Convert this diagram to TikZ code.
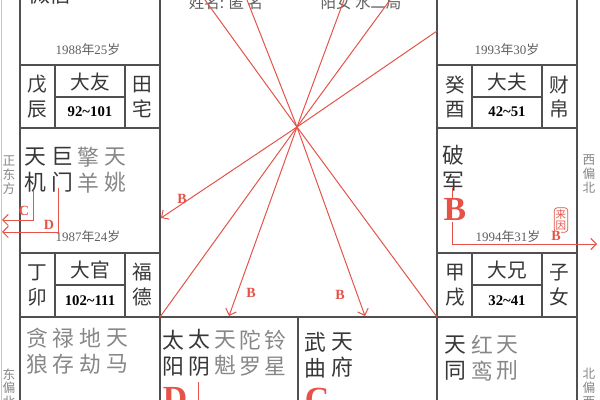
\documentclass[tikz,border=0pt]{standalone}
\usepackage{fontspec}
\setmainfont{Liberation Serif}
\newfontfamily\cjk{Noto Sans CJK SC}
\usetikzlibrary{arrows.meta}
\definecolor{linegray}{RGB}{80,80,80}
\definecolor{edgegray}{RGB}{200,200,200}
\definecolor{stardark}{RGB}{55,55,55}
\definecolor{starlight}{RGB}{135,135,135}
\definecolor{agegray}{RGB}{95,95,95}
\definecolor{flyred}{RGB}{228,82,72}

\begin{document}
\begin{tikzpicture}[x=0.025cm,y=-0.025cm,
    palaceline/.style={draw=linegray,line width=0.75pt},
    flyline/.style={draw=flyred,line width=0.7pt},
    flyarrow/.style={flyline,-{Straight Barb[length=4pt,width=8pt]}},
    starmain/.style={text=stardark,font=\cjk\fontsize{15.5}{18.8}\selectfont,align=center,inner sep=0pt},
    starminor/.style={starmain,text=starlight},
    cellname/.style={font=\cjk\fontsize{14}{17.7}\selectfont,align=center,inner sep=0pt,text=stardark},
    agerange/.style={font=\bfseries\fontsize{10.5}{12}\selectfont,inner sep=0pt,text=black},
    agetext/.style={font=\fontsize{9.2}{11}\selectfont,text=agegray,inner sep=0pt},
    sidetext/.style={font=\cjk\fontsize{9}{9.8}\selectfont,text=starlight,align=center,inner sep=0pt},
    headtext/.style={font=\cjk\fontsize{11}{13}\selectfont,text=agegray,inner sep=0pt},
    bigletter/.style={text=flyred,font=\bfseries\fontsize{24}{24}\selectfont,inner sep=0pt},
    flylabel/.style={text=flyred,font=\bfseries\fontsize{10}{11}\selectfont,inner sep=0pt}]
  \clip (0,0) rectangle (600,400);
  \fill[white] (0,0) rectangle (600,400);

  \draw[draw=edgegray,line width=0.8pt] (1.5,0) -- (1.5,400);
  \draw[palaceline] (20,0) -- (20,400);
  \draw[palaceline] (160,0) -- (160,400);
  \draw[palaceline] (437,0) -- (437,400);
  \draw[palaceline] (577,0) -- (577,400);
  \draw[palaceline] (20,317) -- (577,317);
  \draw[palaceline] (298,317) -- (298,400);
  \foreach \y in {65,128,253} {
    \draw[palaceline] (20,\y) -- (160,\y);
    \draw[palaceline] (437,\y) -- (577,\y);
  }
  \foreach \y/\yy in {65/128,253/317} {
    \draw[palaceline] (55,\y) -- (55,\yy);
    \draw[palaceline] (125,\y) -- (125,\yy);
    \draw[palaceline] (472,\y) -- (472,\yy);
    \draw[palaceline] (542,\y) -- (542,\yy);
  }
  \draw[palaceline] (55,97) -- (125,97);
  \draw[palaceline] (55,285) -- (125,285);
  \draw[palaceline] (472,97) -- (542,97);
  \draw[palaceline] (472,285) -- (542,285);

  \node[headtext] (name) at (226,3) {姓名: 匿 名};
  \node[headtext] (ju) at (361,3) {阳女 水二局};
  \node[starmain] (topstar) at (50,-6) {微信};

  \node[sidetext] (east) at (9,175) {正\\东\\方};
  \node[sidetext] (eastnorth) at (9,388) {东\\偏\\北};
  \node[sidetext] (westnorth) at (589,174) {西\\偏\\北};
  \node[sidetext] (northwest) at (589,388) {北\\偏\\西};

  \node[agetext] (age88) at (88,50) {1988{\cjk 年}25{\cjk 岁}};
  \node[agetext] (age93) at (507,50) {1993{\cjk 年}30{\cjk 岁}};
  \node[agetext] (age87) at (88,237) {1987{\cjk 年}24{\cjk 岁}};
  \node[agetext] (age94) at (508,237) {1994{\cjk 年}31{\cjk 岁}};

  \node[cellname] (wuchen) at (37,97) {戊\\辰};
  \node[cellname] (dayou) at (90,82) {大友};
  \node[agerange] (r92) at (90,112) {92\char`~101};
  \node[cellname] (tianzhai) at (142,97) {田\\宅};
  \node[cellname] (guiyou) at (455,97) {癸\\酉};
  \node[cellname] (dafu) at (507,82) {大夫};
  \node[agerange] (r42) at (507,112) {42\char`~51};
  \node[cellname] (caibo) at (559,97) {财\\帛};
  \node[cellname] (dingmao) at (37,285) {丁\\卯};
  \node[cellname] (daguan) at (90,270) {大官};
  \node[agerange] (r102) at (90,301) {102\char`~111};
  \node[cellname] (fude) at (142,285) {福\\德};
  \node[cellname] (jiaxu) at (455,285) {甲\\戌};
  \node[cellname] (daxiong) at (507,270) {大兄};
  \node[agerange] (r32) at (507,301) {32\char`~41};
  \node[cellname] (zinv) at (559,285) {子\\女};

  \node[starmain] (tianji) at (35,170) {天\\机};
  \node[starmain] (jumen) at (62,170) {巨\\门};
  \node[starminor] (qingyang) at (88,170) {擎\\羊};
  \node[starminor] (tianyao) at (115,170) {天\\姚};
  \node[starmain] (pojun) at (453,168) {破\\军};
  \node[starminor] (tanlang) at (37,351) {贪\\狼};
  \node[starminor] (lucun) at (63,351) {禄\\存};
  \node[starminor] (dijie) at (90,351) {地\\劫};
  \node[starminor] (tianma) at (117,351) {天\\马};
  \node[starmain] (taiyang) at (173,353) {太\\阳};
  \node[starmain] (taiyin) at (199,353) {太\\阴};
  \node[starminor] (tiankui) at (225,353) {天\\魁};
  \node[starminor] (tuoluo) at (250,353) {陀\\罗};
  \node[starminor] (lingxing) at (275,353) {铃\\星};
  \node[starmain] (wuqu) at (315,355) {武\\曲};
  \node[starmain] (tianfu) at (342,355) {天\\府};
  \node[starmain] (tiantong) at (455,358) {天\\同};
  \node[starminor] (hongluan) at (482,358) {红\\鸾};
  \node[starminor] (tianxing) at (507,358) {天\\刑};

  \coordinate (hub) at (297,127);
  \foreach \x [count=\i] in {205,247,344,390} {
    \coordinate (top\i) at (\x,0);
    \draw[flyline] (hub) -- (top\i);
  }
  \coordinate (rightwall) at (437,31);
  \coordinate (leftwall) at (161,218);
  \coordinate (lowleft) at (160,317);
  \coordinate (lowright) at (437,317);
  \coordinate (yinwall) at (229,316);
  \coordinate (fuwall) at (365,316);
  \draw[flyline] (hub) -- (rightwall);
  \draw[flyline] (hub) -- (lowleft);
  \draw[flyline] (hub) -- (lowright);
  \draw[flyarrow] (hub) -- (leftwall);
  \draw[flyarrow] (hub) -- (yinwall);
  \draw[flyarrow] (hub) -- (fuwall);
  \node[flylabel] (b1) at (182,199) {B};
  \node[flylabel] (b2) at (251,293) {B};
  \node[flylabel] (b3) at (340,295) {B};

  \coordinate (jistart) at (33,190);
  \coordinate (jiout) at (2,220);
  \coordinate (menstart) at (58,188);
  \coordinate (menout) at (2,232);
  \draw[flyarrow] (jistart) |- (jiout);
  \draw[flyarrow] (menstart) |- (menout);
  \node[flylabel] (c1) at (24,211) {C};
  \node[flylabel] (d1) at (49,225) {D};

  \coordinate (junstart) at (452,188);
  \coordinate (junout) at (597,244);
  \draw[flyarrow] (junstart) |- (junout);
  \node[bigletter,fill=white,inner sep=0.5pt] (bigb) at (455,210) {B};
  \node[draw=flyred,line width=0.5pt,rounded corners=2pt,text=flyred,
        font=\cjk\fontsize{7.5}{8.5}\selectfont,align=center,inner sep=1pt] (laiyin) at (561,220) {来\\因};
  \node[flylabel,fill=white,inner sep=0.3pt] (b4) at (556,236) {B};

  \coordinate (yinstart) at (198,382);
  \coordinate (yinout) at (198,400);
  \draw[flyline] (yinstart) -- (yinout);
  \node[bigletter] (bigd) at (175,398) {D};
  \node[bigletter] (bigc) at (317,399) {C};
\end{tikzpicture}
\end{document}
